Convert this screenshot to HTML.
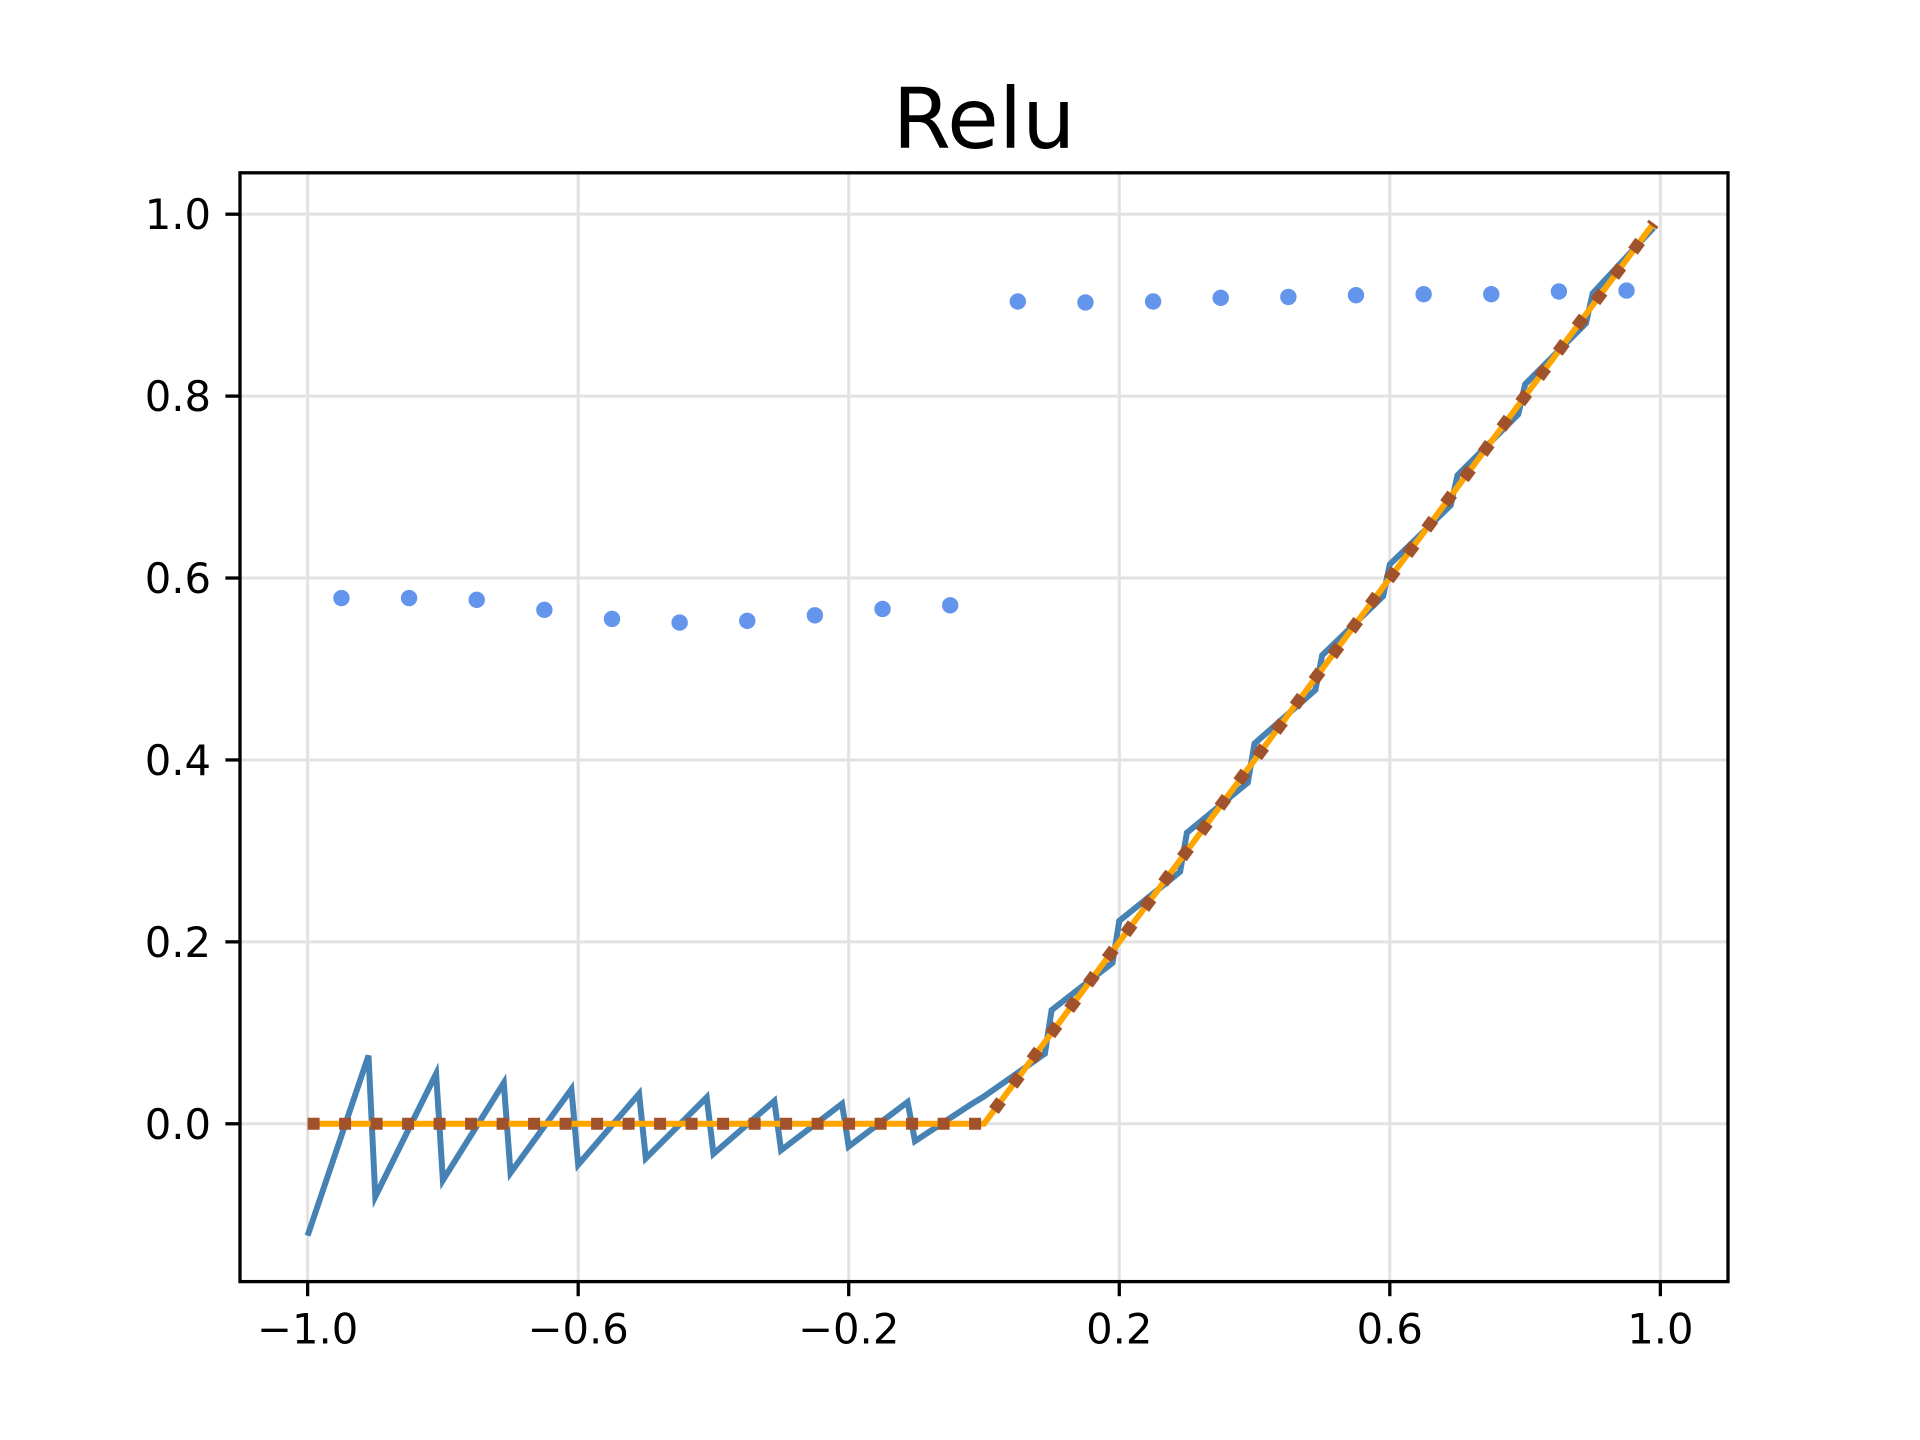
<!DOCTYPE html>
<html><head><meta charset="utf-8"><style>
html,body{margin:0;padding:0;background:#fff;width:1920px;height:1440px;overflow:hidden}
text{font-family:"DejaVu Sans","Liberation Sans",sans-serif}
</style></head><body>
<svg id="chart" width="1920" height="1440" viewBox="0 0 1920 1440" xmlns="http://www.w3.org/2000/svg">
<rect width="1920" height="1440" fill="#fff"/>
<text x="984" y="148" font-size="84" text-anchor="middle" fill="#000">Relu</text>
<g id="grid"></g><g id="series"></g><g id="axes"></g>
</svg>
<script>
const xTicks = [-1.0, -0.6, -0.2, 0.2, 0.6, 1.0];
const xTickLabels = ["\u22121.0", "\u22120.6", "\u22120.2", "0.2", "0.6", "1.0"];
const yTicks = [0.0, 0.2, 0.4, 0.6, 0.8, 1.0];
const yTickLabels = ["0.0", "0.2", "0.4", "0.6", "0.8", "1.0"];
const approxX = [-1.0,-0.91,-0.9,-0.81,-0.8,-0.71,-0.7,-0.61,-0.6,-0.51,-0.5,-0.41,-0.4,-0.31,-0.3,-0.21,-0.2,-0.113,-0.102,-0.02,0.0,0.09,0.10,0.19,0.20,0.29,0.30,0.39,0.40,0.49,0.50,0.59,0.60,0.69,0.70,0.79,0.80,0.89,0.90,0.99];
const approxY = [-0.123,0.075,-0.08,0.055,-0.062,0.045,-0.054,0.038,-0.045,0.033,-0.038,0.029,-0.033,0.025,-0.029,0.022,-0.025,0.024,-0.019,0.021,0.03,0.077,0.125,0.177,0.223,0.277,0.32,0.375,0.418,0.477,0.515,0.58,0.615,0.68,0.713,0.78,0.813,0.88,0.913,0.985];
const reluX = [-1.0, 0.0, 0.99];
const reluY = [0.0, 0.0, 0.99];
const scatterX = [-0.95,-0.85,-0.75,-0.65,-0.55,-0.45,-0.35,-0.25,-0.15,-0.05,0.05,0.15,0.25,0.35,0.45,0.55,0.65,0.75,0.85,0.95];
const scatterY = [0.578,0.578,0.576,0.565,0.555,0.551,0.553,0.559,0.566,0.570,0.904,0.903,0.904,0.908,0.909,0.911,0.912,0.912,0.915,0.916];

const L=240,R=1728,T=172.8,B=1281.6, xmin=-1.1,xmax=1.1,ymin=-0.1735,ymax=1.0455;
function sx(v){return L+(v-xmin)/(xmax-xmin)*(R-L);}
function sy(v){return B-(v-ymin)/(ymax-ymin)*(B-T);}
const NS="http://www.w3.org/2000/svg";
function mk(tag,attrs,parent){const e=document.createElementNS(NS,tag);for(const k in attrs)e.setAttribute(k,attrs[k]);parent.appendChild(e);return e;}
const grid=document.getElementById('grid'),series=document.getElementById('series'),axes=document.getElementById('axes');

xTicks.forEach((t,i)=>{
  const g=mk('line',{x1:sx(t),x2:sx(t),y1:T,y2:B,stroke:'#e2e2e2','stroke-width':3},grid);
  
  
  const tk=mk('line',{x1:sx(t),x2:sx(t),y1:B,y2:B+14.6,stroke:'#000','stroke-width':3.3},axes);
  
  
  const tx=mk('text',{x:sx(t),y:B+62,'font-size':41.7,'text-anchor':'middle',fill:'#000'},axes);
  tx.textContent=xTickLabels[i];
  
  
});
yTicks.forEach((t,i)=>{
  const g=mk('line',{x1:L,x2:R,y1:sy(t),y2:sy(t),stroke:'#e2e2e2','stroke-width':3},grid);
  
  
  const tk=mk('line',{x1:L-14.6,x2:L,y1:sy(t),y2:sy(t),stroke:'#000','stroke-width':3.3},axes);
  
  
  const tx=mk('text',{x:L-29,y:sy(t)+15,'font-size':41.7,'text-anchor':'end',fill:'#000'},axes);
  tx.textContent=yTickLabels[i];
  
  
});
const frame=mk('rect',{x:L,y:T,width:R-L,height:B-T,fill:'none',stroke:'#000','stroke-width':3.3},axes);



function pts(xs,ys){return xs.map((x,i)=>sx(x).toFixed(1)+','+sy(ys[i]).toFixed(1)).join(' ');}
const blue=mk('polyline',{points:pts(approxX,approxY),fill:'none',stroke:'#4682b4','stroke-width':6,'stroke-linejoin':'miter'},series);


const orange=mk('polyline',{points:pts(reluX,reluY),fill:'none',stroke:'#ffa500','stroke-width':6},series);


const dotted=mk('polyline',{points:pts(reluX,reluY),fill:'none',stroke:'#a0522d','stroke-width':12,'stroke-dasharray':'12 19.5'},series);


scatterX.forEach((x,i)=>{
  const c=mk('circle',{cx:sx(x),cy:sy(scatterY[i]),r:8.2,fill:'#6495ed'},series);
  
  
});
</script>
</body></html>
